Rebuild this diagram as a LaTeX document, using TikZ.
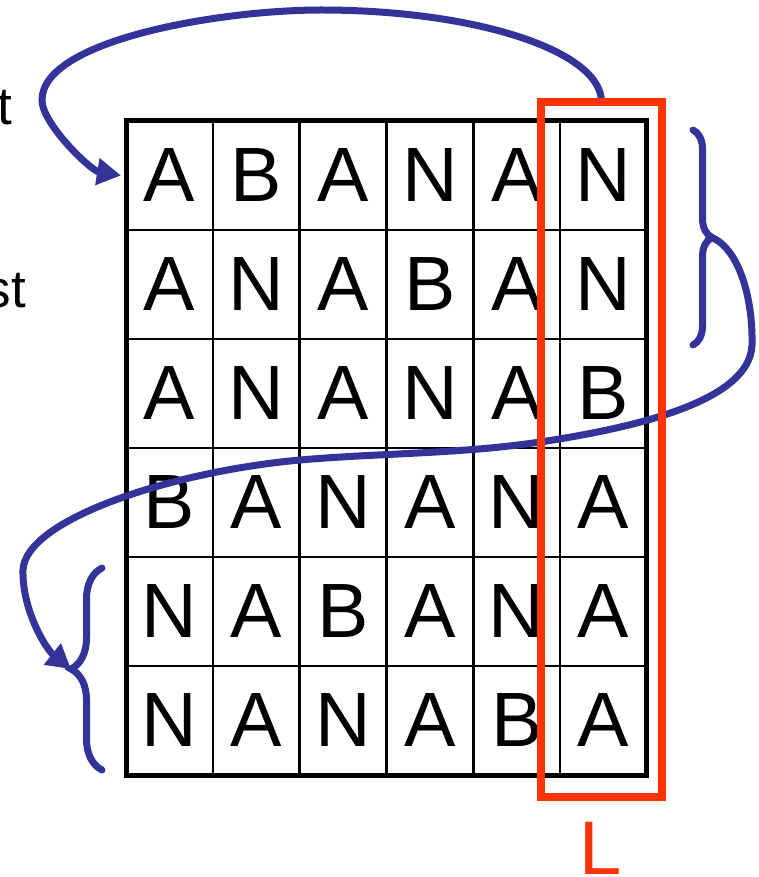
\documentclass[tikz,border=0pt]{standalone}
\usepackage{fontspec}
\setmainfont{Liberation Sans}
\usetikzlibrary{arrows.meta, decorations.pathreplacing}
\definecolor{bwtblue}{RGB}{51,51,153}
\definecolor{bwtred}{RGB}{255,51,0}

\begin{document}
\begin{tikzpicture}[x=1pt, y=-1pt]
    \tikzset{
        cell/.style={
                draw=black, line width=2.5pt, inner sep=0pt, outer sep=0pt,
                minimum width=86.83pt, minimum height=109pt,
                font=\fontsize{77}{77}\selectfont
            },
        side text/.style={
                font=\fontsize{53}{53}\selectfont, inner sep=0pt, anchor=base east
            },
        rot arrow/.style={
                draw=bwtblue, line width=7pt,
                -{Triangle[length=24pt, width=26pt]}
            },
        sort brace/.style={
                draw=bwtblue, line width=7pt, line cap=round,
                decorate, decoration={brace, amplitude=#1}
            }
    }
    \useasboundingbox (0,0) rectangle (758,877);

    % cut-off words at the left edge
    \node[side text] (lbl-t) at (12,125) {t};
    \node[side text] (lbl-st) at (26,307) {st};

    % rotation matrix
    \foreach \row [count=\r] in {{A,B,A,N,A,N},{A,N,A,B,A,N},{A,N,A,N,A,B},{B,A,N,A,N,A},{N,A,B,A,N,A},{N,A,N,A,B,A}}
        \foreach \ch [count=\c] in \row
            \node[cell] (c\r\c) at ({126+(\c-0.5)*86.83}, {121+(\r-0.5)*109}) {\ch};
    \draw[line width=5pt] (c11.north west) rectangle (c66.south east);

    % last column box
    \node[minimum width=121pt, minimum height=695pt, inner sep=0pt, outer sep=0pt] (Lbox) at (601.5,449.5) {};
    \node[font=\fontsize{76}{76}\selectfont, text=bwtred, inner sep=0pt, anchor=base west] (Llabel) at (579,874) {L};

    % braces
    \draw[sort brace=19pt] (693,130) -- (693,345);
    \draw[sort brace=31pt] (102,770) -- (102,568);
    \coordinate (rtip) at (712,237.5);
    \coordinate (ltip) at (71,669);

    % top arrow
    \draw[rot arrow] (Lbox.north) .. controls (601.5,51) and (476,10) .. (321,10)
        .. controls (220,10) and (42,40) .. (42,100)
        .. controls (42,124) and (91,170.6) .. ([xshift=-5pt]c11.west);
    % long arrow
    \draw[rot arrow] (rtip) .. controls (740,250) and (753,300) .. (752,345)
        .. controls (750,400) and (640,427) .. (540,442)
        .. controls (460,454) and (380,453) .. (300,460)
        .. controls (170,471.7) and (25,520) .. (23,570)
        .. controls (22,610) and (46,649) .. (ltip);

    \draw[draw=bwtred, line width=8pt] (Lbox.north west) rectangle (Lbox.south east);
\end{tikzpicture}
\end{document}
